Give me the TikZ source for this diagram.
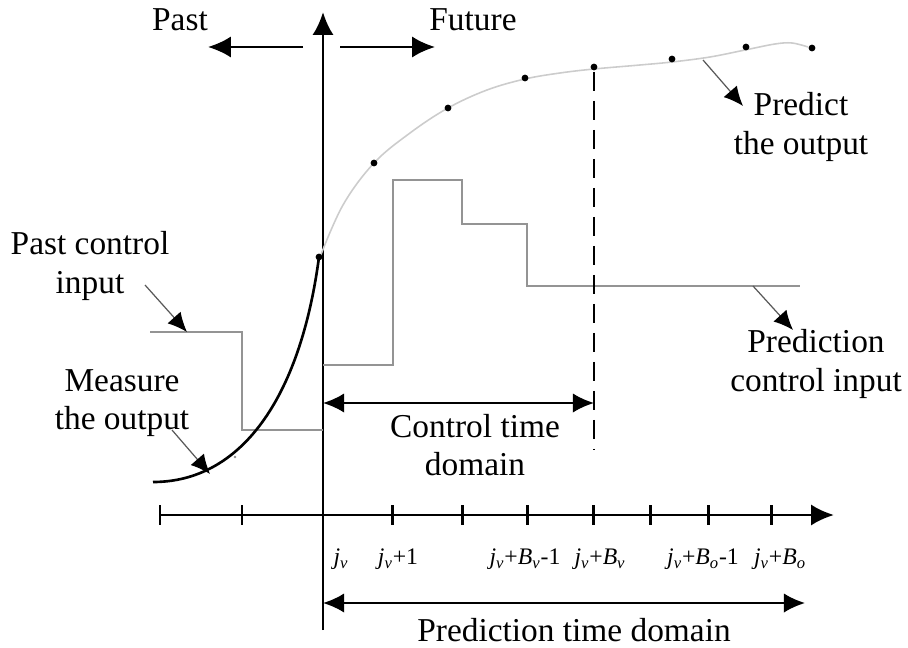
\documentclass[tikz,border=0pt]{standalone}
\usepackage{fontspec}
\setmainfont{Liberation Serif}
\usetikzlibrary{arrows.meta}

\begin{document}
\begin{tikzpicture}[x=0.02cm,y=-0.02cm,
    axisline/.style={line width=1.7pt,black},
    bigarrow/.style={line width=1.4pt,-{Latex[length=13pt,width=12pt]}},
    spanarrow/.style={line width=1.2pt,{Latex[length=12pt,width=11pt]}-{Latex[length=12pt,width=11pt]}},
    stepline/.style={line width=1.2pt,black!42},
    predline/.style={line width=0.9pt,black!20},
    noteline/.style={line width=0.7pt,black!65,-{Latex[length=11pt,width=10pt,black]}},
    caption/.style={font=\captionfontsize,align=center,inner sep=0},
    ticklabel/.style={font=\tickfontsize,inner sep=0}]
    \pgfmathsetmacro{\axisx}{323}  % time now
    \pgfmathsetmacro{\axisy}{515}
    \pgfmathsetmacro{\dotradius}{3.4}
    \pgfmathsetmacro{\ticklength}{10}
    \providecommand{\captionfontsize}{\fontsize{19}{22}\selectfont}
    \providecommand{\tickfontsize}{\fontsize{13.5}{16}\selectfont}
    \providecommand{\jv}{\textit{j}\textsubscript{\textit{v}}}
    \useasboundingbox (0,0) rectangle (908,648);
    % axes
    \coordinate (tbottom) at (\axisx,630);
    \coordinate (ttop) at (\axisx,12);
    \coordinate (xstart) at (160,\axisy);
    \coordinate (xend) at (834,\axisy);
    \draw[axisline,-{Latex[length=13pt,width=12pt]}] (tbottom) -- (ttop);
    \draw[axisline,-{Latex[length=13pt,width=12pt]}] (xstart) -- (xend);
    \foreach \x in {160,242,392,462,527,593,650,708,771}
        \draw[axisline] (\x,\axisy-\ticklength) -- (\x,\axisy+\ticklength);
    \node[ticklabel] (k0) at (341,559) {\jv};
    \node[ticklabel] (k1) at (398,559) {\jv+1};
    \node[ticklabel] (kbv1) at (525,559) {\jv+\textit{B}\textsubscript{\textit{v}}-1};
    \node[ticklabel] (kbv) at (600,559) {\jv+\textit{B}\textsubscript{\textit{v}}};
    \node[ticklabel] (kbo1) at (703,559) {\jv+\textit{B}\textsubscript{\textit{o}}-1};
    \node[ticklabel] (kbo) at (780,559) {\jv+\textit{B}\textsubscript{\textit{o}}};
    % past / future
    \node[caption] (past) at (180,20) {Past};
    \node[caption] (future) at (473,20) {Future};
    \coordinate (pastfrom) at (303,47);
    \coordinate (pastto) at (208,47);
    \coordinate (futfrom) at (340,47);
    \coordinate (futto) at (435,47);
    \draw[bigarrow] (pastfrom) -- (pastto);
    \draw[bigarrow] (futfrom) -- (futto);
    % control input steps
    \draw[stepline] (150,332) -- (242,332) -- (242,430) -- (\axisx,430);
    \draw[stepline] (\axisx,365) -- (393,365) -- (393,180) -- (462,180) -- (462,224)
        -- (527,224) -- (527,286) -- (800,286);
    % predicted and measured output
    \draw[predline] plot[smooth,tension=0.6] coordinates {(320,257) (343,205) (374,163) (410,133)
        (448,108) (487,90) (525,79) (560,73) (594,69) (640,65) (672,62) (710,57) (745,50)
        (775,44) (792,43) (808,47)};
    \draw[line width=1.5pt] (153,482) .. controls (240,482) and (300,400) .. (319,257);
    \fill[black!45] (235,457) circle[radius=1.4];
    \foreach \p in {(319,257),(374,163),(448,108),(525,78),(594,67),(672,59),(746,47),(812,48)}
        \fill \p circle[radius=\dotradius];
    \draw[line width=1.5pt,dash pattern=on 11pt off 5.5pt] (594,72) -- (594,450);
    % time domains
    \coordinate (ctlfrom) at (\axisx,403);
    \coordinate (ctlto) at (594,403);
    \draw[spanarrow] (ctlfrom) -- (ctlto);
    \node[caption] (ctlspan) at (475,445) {Control time\\domain};
    \coordinate (prdfrom) at (\axisx,603);
    \coordinate (prdto) at (805,603);
    \draw[spanarrow] (prdfrom) -- (prdto);
    \node[caption] (prdspan) at (574,630) {Prediction time domain};
    % notes
    \node[caption] (pastin) at (90,266) {Past control\\input};
    \coordinate (pastinfrom) at (145,285);
    \coordinate (pastinto) at (187,332);
    \draw[noteline] (pastinfrom) -- (pastinto);
    \node[caption] (measure) at (122,403) {Measure\\the output};
    \coordinate (measfrom) at (172,430);
    \coordinate (measto) at (210,474);
    \draw[noteline] (measfrom) -- (measto);
    \node[caption] (predict) at (801,127) {Predict\\the output};
    \coordinate (predfrom) at (703,60);
    \coordinate (predto) at (743,106);
    \draw[noteline] (predfrom) -- (predto);
    \node[caption] (predin) at (816,364) {Prediction\\control input};
    \coordinate (predinfrom) at (753,286);
    \coordinate (predinto) at (793,330);
    \draw[noteline] (predinfrom) -- (predinto);
\end{tikzpicture}
\end{document}
